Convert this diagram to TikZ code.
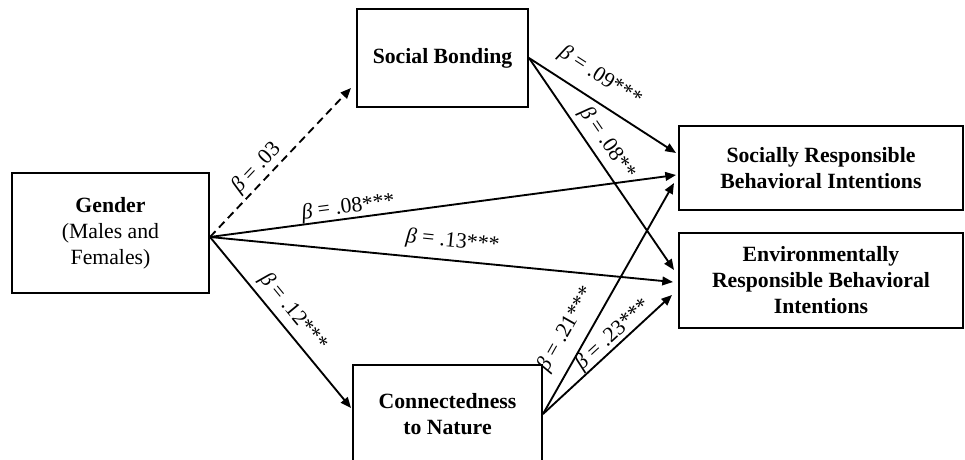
\documentclass[tikz,border=0pt]{standalone}
\usepackage{fontspec}
\setmainfont{Liberation Serif}
\usepackage{xcolor}
\usepackage{tikz}
\usetikzlibrary{arrows.meta,calc}
\definecolor{PathInk}{HTML}{000000}

\begin{document}
\begin{tikzpicture}[x=.75pt,y=-.75pt]
  \path[use as bounding box] (0,0) rectangle (965,460);

  \tikzset{
    pmBox/.style={
      draw=PathInk,
      fill=white,
      line width=1.5pt,
      inner sep=0pt,
      align=center,
      font=\fontsize{16.3pt}{19.5pt}\selectfont,
      text=PathInk
    },
    pmPath/.style={
      -{Triangle[length=8pt,width=6.5pt]},
      draw=PathInk,
      line width=1.4pt
    },
    pmNull/.style={
      pmPath,
      dash pattern=on 6pt off 3.75pt
    },
    pmCoef/.style={
      sloped,
      inner sep=0pt,
      font=\fontsize{16.3pt}{19.5pt}\selectfont
    }
  }

  % predictor, mediators and outcomes
  \node[pmBox,minimum width=147.75pt,minimum height=90pt] (gender) at (110.5,233)
    {\textbf{Gender}\\(Males and\\Females)};
  \node[pmBox,minimum width=128.25pt,minimum height=73.5pt] (bond) at (442.5,58)
    {\textbf{Social Bonding}};
  \node[pmBox,minimum width=141.75pt,minimum height=73.5pt] (nature) at (447.5,414)
    {\textbf{Connectedness}\\\textbf{to Nature}};
  \node[pmBox,minimum width=213pt,minimum height=63pt] (socresp) at (821,168)
    {\textbf{Socially Responsible}\\\textbf{Behavioral Intentions}};
  \node[pmBox,minimum width=213pt,minimum height=71.25pt] (envresp) at (821,280.5)
    {\textbf{Environmentally}\\\textbf{Responsible Behavioral}\\\textbf{Intentions}};

  \coordinate (gout) at ($(gender.east)+(0,4)$);

  % paths from gender
  \draw[pmNull] (gout) -- ($(bond.south west)+(-5,-20)$)
    node[pmCoef,pos=.40,above=2pt] {{\itshape β} = .03};
  \draw[pmPath] (gout) -- ($(socresp.west)+(-2,7)$)
    node[pmCoef,pos=.30,above=0pt] {{\itshape β} = .08***};
  \draw[pmPath] (gout) -- ($(envresp.west)+(-5,1.5)$)
    node[pmCoef,pos=.52,above=6pt] {{\itshape β} = .13***};
  \draw[pmPath] (gout) -- ($(nature.west)+(-1,-6)$)
    node[pmCoef,pos=.50,above=4pt] {{\itshape β} = .12***};

  % paths from the mediators
  \draw[pmPath] (bond.east) -- ($(socresp.west)+(-2,-15)$)
    node[pmCoef,pos=.40,above=9pt] {{\itshape β} = .09***};
  \draw[pmPath] (bond.east) -- ($(envresp.west)+(-4,-10.5)$)
    node[pmCoef,pos=.445,above=4pt] {{\itshape β} = .08**};
  \draw[pmPath] (nature.east) -- ($(socresp.west)+(-4,15)$)
    node[pmCoef,pos=.32,above=8pt] {{\itshape β} = .21***};
  \draw[pmPath] (nature.east) -- ($(envresp.west)+(-6,14.5)$)
    node[pmCoef,pos=.60,above=0pt] {{\itshape β} = .23***};
\end{tikzpicture}
\end{document}
